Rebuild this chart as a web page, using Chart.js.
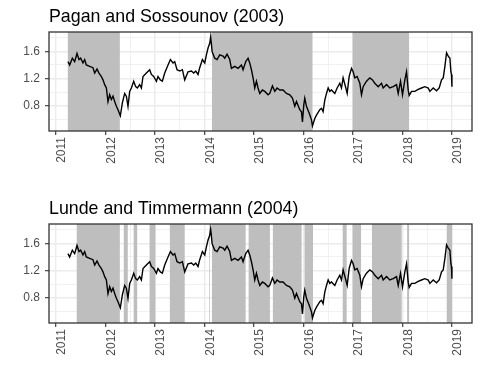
<!DOCTYPE html>
<html>
<head>
<meta charset="utf-8">
<script src="https://cdn.jsdelivr.net/npm/chart.js@4"></script>
<style>
  body { margin: 0; background: #fff; }
  canvas { display: block; }
</style>
</head>
<body>
<canvas id="ps" width="480" height="192"></canvas>
<canvas id="lt" width="480" height="192"></canvas>
<script>
// decimal years of the series
const dates = [
  2011.243, 2011.277, 2011.331, 2011.378, 2011.425, 2011.465, 2011.499, 2011.546, 2011.580, 2011.613,
  2011.681, 2011.748, 2011.782, 2011.829, 2011.869, 2011.917, 2011.950, 2011.984, 2012.018, 2012.051,
  2012.085, 2012.119, 2012.152, 2012.186, 2012.220, 2012.253, 2012.300, 2012.341, 2012.388, 2012.422,
  2012.455, 2012.489, 2012.523, 2012.570, 2012.610, 2012.644, 2012.691, 2012.725, 2012.758, 2012.826,
  2012.893, 2012.927, 2012.974, 2013.028, 2013.061, 2013.108, 2013.149, 2013.196, 2013.263, 2013.311,
  2013.364, 2013.398, 2013.445, 2013.499, 2013.553, 2013.600, 2013.667, 2013.735, 2013.782, 2013.822,
  2013.869, 2013.903, 2013.957, 2014.004, 2014.038, 2014.071, 2014.105, 2014.125, 2014.152, 2014.206,
  2014.253, 2014.307, 2014.374, 2014.408, 2014.455, 2014.509, 2014.543, 2014.610, 2014.677, 2014.745,
  2014.778, 2014.832, 2014.879, 2014.913, 2014.947, 2014.980, 2015.014, 2015.048, 2015.081, 2015.115,
  2015.169, 2015.216, 2015.283, 2015.317, 2015.371, 2015.418, 2015.465, 2015.519, 2015.586, 2015.654,
  2015.721, 2015.775, 2015.822, 2015.856, 2015.923, 2015.957, 2015.977, 2016.004, 2016.024, 2016.058,
  2016.112, 2016.159, 2016.179, 2016.226, 2016.260, 2016.327, 2016.361, 2016.394, 2016.428, 2016.462,
  2016.496, 2016.529, 2016.563, 2016.630, 2016.677, 2016.731, 2016.765, 2016.798, 2016.853, 2016.880,
  2016.920, 2016.967, 2017.001, 2017.034, 2017.081, 2017.135, 2017.169, 2017.203, 2017.270, 2017.337,
  2017.391, 2017.438, 2017.506, 2017.573, 2017.607, 2017.674, 2017.741, 2017.809, 2017.876, 2017.910,
  2017.957, 2017.997, 2018.044, 2018.078, 2018.112, 2018.132, 2018.179, 2018.246, 2018.313, 2018.381,
  2018.448, 2018.516, 2018.549, 2018.617, 2018.684, 2018.738, 2018.785, 2018.819, 2018.853, 2018.886,
  2018.920, 2018.954, 2018.974, 2018.985, 2018.995
]
const values = [
  1.45, 1.40, 1.50, 1.45, 1.57, 1.48, 1.50, 1.43, 1.48, 1.40,
  1.38, 1.36, 1.28, 1.34, 1.28, 1.23, 1.18, 1.11, 1.06, 0.86,
  0.96, 0.89, 0.94, 0.86, 0.79, 0.74, 0.65, 0.84, 0.98, 0.94,
  0.79, 1.01, 1.06, 1.16, 1.08, 1.06, 1.11, 1.06, 1.23, 1.28,
  1.33, 1.26, 1.23, 1.16, 1.23, 1.18, 1.16, 1.28, 1.40, 1.48,
  1.43, 1.45, 1.33, 1.31, 1.33, 1.18, 1.30, 1.31, 1.28, 1.31,
  1.26, 1.36, 1.48, 1.43, 1.55, 1.65, 1.72, 1.82, 1.60, 1.50,
  1.48, 1.55, 1.53, 1.50, 1.56, 1.48, 1.35, 1.38, 1.35, 1.40,
  1.33, 1.45, 1.50, 1.43, 1.33, 1.21, 1.06, 1.16, 1.06, 0.98,
  1.03, 1.01, 0.96, 0.98, 1.09, 1.01, 1.06, 1.03, 1.03, 0.98,
  0.96, 0.91, 0.79, 0.86, 0.74, 0.71, 0.56, 0.81, 0.91, 0.79,
  0.69, 0.59, 0.50, 0.61, 0.66, 0.74, 0.76, 0.71, 0.88, 0.98,
  1.06, 1.01, 1.03, 0.98, 1.06, 1.13, 1.06, 1.21, 1.06, 0.98,
  1.23, 1.35, 1.30, 1.21, 1.23, 1.13, 0.96, 1.08, 1.16, 1.21,
  1.18, 1.13, 1.08, 1.13, 1.06, 1.11, 1.06, 1.08, 1.11, 0.98,
  1.16, 0.96, 1.18, 1.30, 1.03, 0.95, 1.01, 1.01, 1.04, 1.06,
  1.08, 1.06, 1.01, 1.06, 1.02, 1.06, 1.18, 1.21, 1.38, 1.58,
  1.53, 1.50, 1.30, 1.26, 1.08
]

// shaded periods, Pagan and Sossounov (2003)
const psStart = [2011.24, 2014.15, 2016.99]
const psEnd = [2012.29, 2016.18, 2018.13]

// shaded periods, Lunde and Timmermann (2004)
const ltStart = [2011.42, 2012.37, 2012.57, 2012.89, 2013.30, 2014.092, 2014.15, 2014.89, 2015.38, 2016.02,
  2016.79, 2016.99, 2017.38, 2018.09, 2018.89]
const ltEnd = [2012.29, 2012.45, 2012.64, 2013.01, 2013.60, 2014.105, 2014.83, 2015.32, 2015.96, 2016.19,
  2016.87, 2017.16, 2017.98, 2018.13, 2019.00]

const xLabels = [2011, 2012, 2013, 2014, 2015, 2016, 2017, 2018, 2019]
const yLabels = [0.8, 1.2, 1.6]

const isXMajor = v => xLabels.includes(Math.round(v * 10) / 10)
const isYMajor = v => yLabels.includes(Math.round(v * 10) / 10)

const shading = {
  id: 'shading',
  beforeDatasetsDraw (chart, args, opts) {
    const { ctx, chartArea: a, scales: { x } } = chart
    ctx.save()
    ctx.beginPath()
    ctx.rect(a.left, a.top, a.right - a.left, a.bottom - a.top)
    ctx.clip()
    ctx.fillStyle = '#BEBEBE'
    opts.starts.forEach((s, i) => {
      const x0 = x.getPixelForValue(s)
      const x1 = x.getPixelForValue(opts.ends[i])
      ctx.fillRect(x0, a.top, x1 - x0, a.bottom - a.top)
    })
    ctx.restore()
  },
  afterDraw (chart, args, opts) {
    const { ctx, chartArea: a } = chart
    ctx.save()
    ctx.strokeStyle = '#333333'
    ctx.lineWidth = 1.3
    ctx.strokeRect(a.left, a.top, a.right - a.left, a.bottom - a.top)
    ctx.fillStyle = '#000'
    ctx.font = '17.8px "Liberation Sans", Arial, sans-serif'
    ctx.textBaseline = 'alphabetic'
    ctx.textAlign = 'left'
    ctx.fillText(opts.title, a.left, 22)
    ctx.restore()
  }
}

function build (id, title, starts, ends) {
  const tickFont = { family: '"Liberation Sans", Arial, sans-serif', size: 12 }
  return new Chart(document.getElementById(id).getContext('2d'), {
    type: 'line',
    data: {
      datasets: [{
        data: dates.map((d, i) => ({ x: d, y: values[i] })),
        borderColor: '#000',
        borderWidth: 1.4,
        pointRadius: 0,
        tension: 0
      }]
    },
    options: {
      responsive: false,
      animation: false,
      layout: { padding: { top: 32, right: 8, left: 0, bottom: 0 } },
      plugins: {
        legend: { display: false },
        tooltip: { enabled: false },
        shading: { starts, ends, title }
      },
      scales: {
        x: {
          type: 'linear',
          min: 2010.86,
          max: 2019.40,
          afterFit: s => { s.height = 61 },
          border: { display: false },
          grid: {
            color: '#EBEBEB',
            lineWidth: c => (c.tick && isXMajor(c.tick.value) ? 1.4 : 0.7),
            tickColor: c => (c.tick && isXMajor(c.tick.value) ? '#333333' : 'rgba(0,0,0,0)'),
            tickLength: 4,
            tickWidth: 1.1
          },
          ticks: {
            stepSize: 0.5,
            includeBounds: false,
            autoSkip: false,
            minRotation: 90,
            maxRotation: 90,
            labelOffset: 6,
            padding: 2,
            color: '#4D4D4D',
            font: tickFont,
            callback: v => (isXMajor(v) ? String(Math.round(v)) : '')
          }
        },
        y: {
          min: 0.425,
          max: 1.887,
          afterFit: s => { s.width = 49 },
          border: { display: false },
          grid: {
            color: '#EBEBEB',
            lineWidth: c => (c.tick && isYMajor(c.tick.value) ? 1.4 : 0.7),
            tickColor: c => (c.tick && isYMajor(c.tick.value) ? '#333333' : 'rgba(0,0,0,0)'),
            tickLength: 4,
            tickWidth: 1.1
          },
          ticks: {
            stepSize: 0.2,
            includeBounds: false,
            autoSkip: false,
            padding: 5,
            color: '#4D4D4D',
            font: tickFont,
            callback: v => (isYMajor(v) ? v.toFixed(1) : '')
          }
        }
      }
    },
    plugins: [shading]
  })
}

build('ps', 'Pagan and Sossounov (2003)', psStart, psEnd)
build('lt', 'Lunde and Timmermann (2004)', ltStart, ltEnd)
</script>
</body>
</html>
